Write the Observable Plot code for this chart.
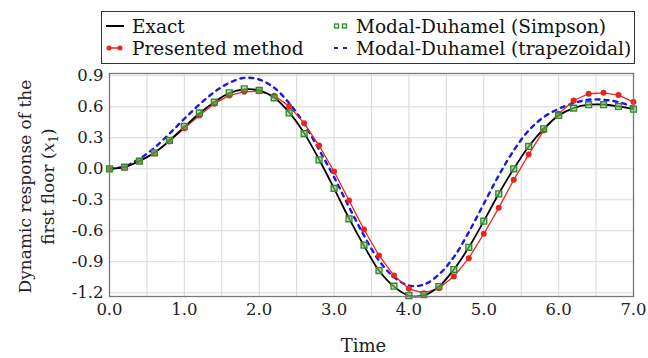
<!DOCTYPE html>
<html>
<head>
<meta charset="utf-8">
<script src="https://cdn.jsdelivr.net/npm/d3@7"></script>
<script src="https://cdn.jsdelivr.net/npm/@observablehq/plot@0.6"></script>
<style>
  html, body { margin: 0; padding: 0; background: #fff; }
  #wrap { position: relative; width: 648px; height: 358px; font-family: "DejaVu Serif", serif; }
  #legend { position: absolute; left: 101px; top: 11px; width: 534px; height: 53px; border: 1.3px solid #333; box-sizing: border-box; font-size: 18.5px; color: #111; }
  .item { position: absolute; display: flex; align-items: center; white-space: nowrap; height: 22px; }
  .item svg { margin-right: 7px; }
  #chart { position: absolute; left: 0; top: 66px; }
</style>
</head>
<body>
<div id="wrap">
  <div id="legend">
    <div class="item" style="left:3px; top:3px;"><svg width="20" height="12"><line x1="1" y1="6" x2="19" y2="6" stroke="#000" stroke-width="2"/></svg>Exact</div>
    <div class="item" style="left:3px; top:25px;"><svg width="20" height="12"><line x1="3" y1="6" x2="17" y2="6" stroke="#e8241f" stroke-width="1.5"/><circle cx="4" cy="6" r="2.5" fill="#e8241f"/><circle cx="15" cy="6" r="2.5" fill="#e8241f"/></svg>Presented method</div>
    <div class="item" style="left:231px; top:3px;"><svg width="16" height="12"><rect x="1.5" y="4" width="4" height="4" fill="#e8f5e0" stroke="#2e8b2e" stroke-width="1.3"/><rect x="9.5" y="4" width="4" height="4" fill="#e8f5e0" stroke="#2e8b2e" stroke-width="1.3"/></svg>Modal-Duhamel (Simpson)</div>
    <div class="item" style="left:231px; top:25px;"><svg width="16" height="12"><line x1="1" y1="6" x2="15" y2="6" stroke="#1a1adc" stroke-width="2.2" stroke-dasharray="4,5"/></svg>Modal-Duhamel (trapezoidal)</div>
  </div>
  <div id="chart"></div>
</div>
<script>
// Time samples
const time = [0.0,0.2,0.4,0.6,0.8,1.0,1.2,1.4,1.6,1.8,2.0,2.2,2.4,2.6,2.8,3.0,3.2,3.4,3.6,3.8,4.0,4.2,4.4,4.6,4.8,5.0,5.2,5.4,5.6,5.8,6.0,6.2,6.4,6.6,6.8,7.0];

// Exact response
const exact = [0.0,0.015,0.075,0.155,0.272,0.405,0.535,0.645,0.732,0.768,0.758,0.69,0.545,0.345,0.09,-0.19,-0.48,-0.745,-0.985,-1.14,-1.228,-1.225,-1.14,-0.975,-0.76,-0.507,-0.242,0.0,0.216,0.387,0.516,0.587,0.62,0.622,0.603,0.577];

// Modal-Duhamel (Simpson)
const simpson = [0.0,0.015,0.074,0.155,0.274,0.41,0.54,0.645,0.735,0.774,0.758,0.687,0.54,0.34,0.087,-0.19,-0.484,-0.74,-0.985,-1.136,-1.227,-1.217,-1.14,-0.975,-0.76,-0.507,-0.242,0.0,0.216,0.387,0.516,0.587,0.62,0.62,0.603,0.577];

// Presented method
const presented = [0.0,0.012,0.078,0.15,0.265,0.393,0.516,0.63,0.71,0.745,0.75,0.706,0.606,0.44,0.225,-0.026,-0.307,-0.588,-0.839,-1.033,-1.162,-1.204,-1.156,-1.043,-0.865,-0.629,-0.378,-0.107,0.138,0.371,0.532,0.661,0.726,0.735,0.713,0.645];

// Modal-Duhamel (trapezoidal)
const trapezoidal = [0.0,0.022,0.097,0.203,0.339,0.484,0.622,0.742,0.832,0.88,0.864,0.784,0.635,0.435,0.184,-0.081,-0.371,-0.646,-0.888,-1.049,-1.13,-1.12,-1.023,-0.855,-0.613,-0.339,-0.065,0.177,0.371,0.5,0.58,0.635,0.668,0.668,0.645,0.596];

const xTicks = [0,1,2,3,4,5,6,7];
const xGrid = [0.5,1,1.5,2,2.5,3,3.5,4,4.5,5,5.5,6,6.5];
const yTicks = [-1.2,-0.9,-0.6,-0.3,0.0,0.3,0.6,0.9];
const xLabel = "Time";
const yLabel1 = "Dynamic response of the";
const yLabel2 = "first floor (";

const rows = time.map((t, i) => ({t, exact: exact[i], simpson: simpson[i], presented: presented[i], trap: trapezoidal[i]}));

const chart = Plot.plot({
  width: 648,
  height: 292,
  marginLeft: 109,
  marginRight: 15,
  marginTop: 7,
  marginBottom: 62,
  style: {fontFamily: "DejaVu Serif", fontSize: "16px", color: "#222", background: "#fff"},
  x: {domain: [0, 7], label: null},
  y: {domain: [-1.236, 0.922], label: null},
  marks: [
    Plot.gridX(xGrid, {stroke: "#d8d8d8", strokeOpacity: 1, strokeWidth: 1}),
    Plot.gridY(yTicks, {stroke: "#d8d8d8", strokeOpacity: 1, strokeWidth: 1}),
    Plot.line(rows, {x: "t", y: "trap", stroke: "#1a1adc", strokeWidth: 2.4, strokeDasharray: "4,5", curve: "catmull-rom"}),
    Plot.line(rows, {x: "t", y: "presented", stroke: "#e8241f", strokeWidth: 1.3}),
    Plot.dot(rows, {x: "t", y: "presented", r: 3, fill: "#e8241f", stroke: "none"}),
    Plot.line(rows, {x: "t", y: "exact", stroke: "#000", strokeWidth: 1.8, curve: "catmull-rom"}),
    Plot.dot(rows, {x: "t", y: "simpson", symbol: "square", r: 3.3, fill: "#8fd07a", fillOpacity: 0.6, stroke: "#2e8b2e", strokeWidth: 1.4}),
    Plot.frame({stroke: "#777", strokeWidth: 1.3}),
    Plot.axisX(xTicks, {tickSize: 0, tickPadding: 7, tickFormat: d => d.toFixed(1), fontSize: 16.5, fill: "#222"}),
    Plot.axisY(yTicks, {tickSize: 0, tickPadding: 6, tickFormat: d => d.toFixed(1).replace("−", "-"), fontSize: 16.5, fill: "#222"}),
    Plot.text([xLabel], {frameAnchor: "bottom", dx: -8, dy: 55, text: d => d, fontSize: 18, fill: "#222"})
  ]
});
document.getElementById("chart").appendChild(chart);

// Two-line rotated y-axis title with italic x and subscript 1
const svg = d3.select(chart);
const cy = 7 + (292 - 7 - 62) / 2 + 2;
const g = svg.append("g").attr("transform", `translate(0,${cy}) rotate(-90)`)
  .attr("font-family", "DejaVu Serif").attr("font-size", 17).attr("fill", "#222").attr("text-anchor", "middle");
g.append("text").attr("x", 0).attr("y", 31).text(yLabel1);
const t2 = g.append("text").attr("x", 0).attr("y", 54);
t2.append("tspan").text(yLabel2);
t2.append("tspan").attr("font-style", "italic").text("x");
t2.append("tspan").attr("font-size", 12).attr("dy", 4).text("1");
t2.append("tspan").attr("dy", -4).text(")");
</script>
</body>
</html>
